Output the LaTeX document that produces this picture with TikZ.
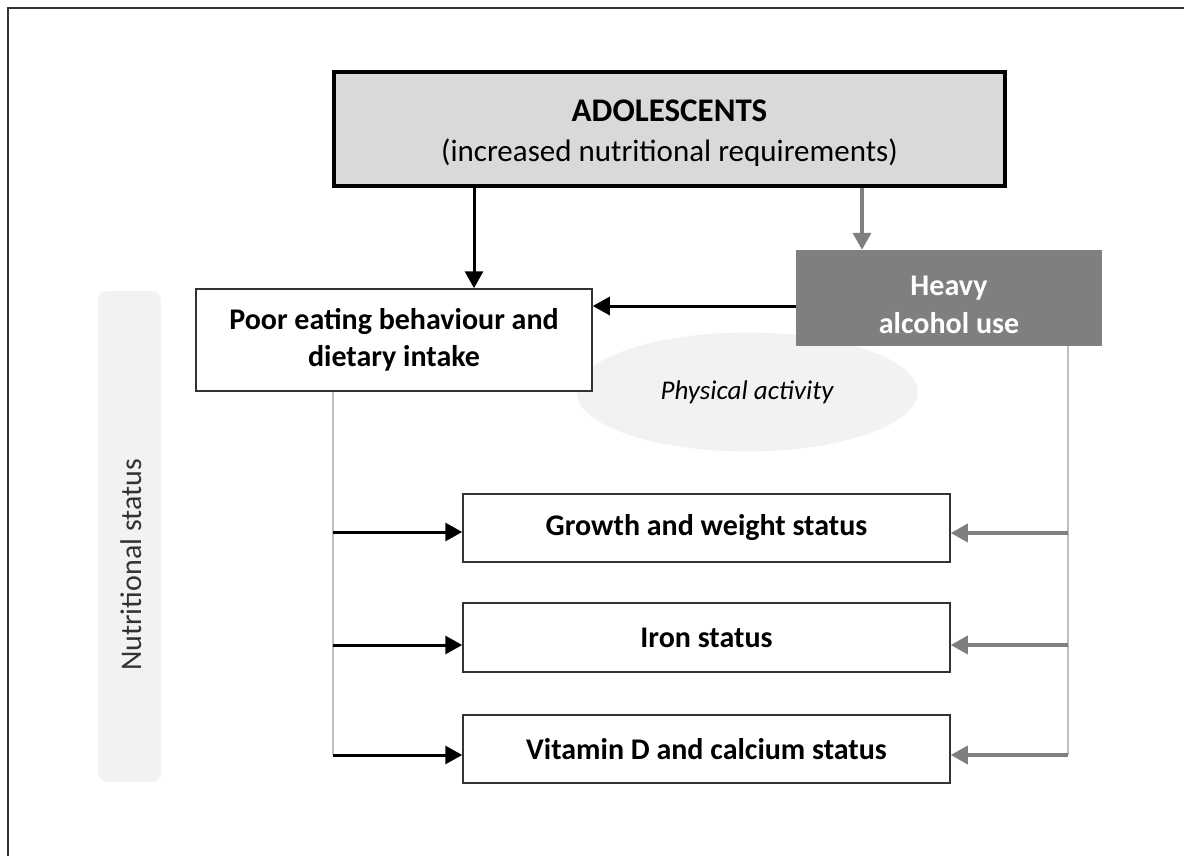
\documentclass[tikz,border=0pt]{standalone}
\usepackage{fontspec}
\setmainfont{Carlito}
\usepackage{xcolor}
\usepackage{tikz}
\usetikzlibrary{arrows.meta,positioning,shapes.geometric}
\definecolor{boxgray}{HTML}{D9D9D9}
\definecolor{alcgray}{HTML}{7F7F7F}
\definecolor{palegray}{HTML}{F2F2F2}
\definecolor{linegray}{HTML}{BFBFBF}
\definecolor{edgegray}{HTML}{333333}
\begin{document}
\begin{tikzpicture}[x=1pt,y=-1pt,
	box/.style={draw=edgegray,line width=1.5pt,fill=white,align=center,font=\fontsize{30}{37}\selectfont\bfseries,inner sep=0pt},
	blkarrow/.style={line width=3pt,-{Triangle[length=17pt,width=18pt]}},
	grayarrow/.style={alcgray,line width=3.5pt,-{Triangle[length=17pt,width=18pt]}},
	thinline/.style={linegray,line width=2pt}]
	\useasboundingbox (0,0) rectangle (1184,856);
	\draw[edgegray,line width=1.5pt] (8,856) -- (8,8) -- (1184,8);
	\node[draw=black,line width=4.5pt,fill=boxgray,minimum width=671pt,minimum height=114pt,align=center,inner sep=0pt,
		font=\fontsize{31}{40}\selectfont] (adol) at (669.5,129)
		{{\fontsize{33}{40}\selectfont\bfseries\rule{0pt}{29pt}ADOLESCENTS}\\(increased nutritional requirements)};
	\node[fill=palegray,rounded corners=9pt,minimum width=63pt,minimum height=491pt] (nutr) at (129.5,536.5) {};
	\node[rotate=90,text=edgegray,font=\fontsize{30}{34}\selectfont] (nutrtext) at (131,565) {Nutritional status};
	\node[ellipse,fill=palegray,minimum width=341pt,minimum height=119pt,inner sep=0pt] (phys) at (747,392)
		{\fontsize{27}{30}\selectfont\itshape Physical activity};
	\node[fill=alcgray,text=white,minimum width=306pt,minimum height=96pt,align=center,inner sep=0pt,font=\fontsize{30}{38}\selectfont\bfseries] (alc) at (949,298)
		{\rule{0pt}{34pt}Heavy\\alcohol use};
	\node[box,minimum width=396pt,minimum height=102pt] (eat) at (394,340) {Poor eating behaviour and\\dietary intake};
	\node[box,minimum width=487pt,minimum height=68pt] (growth) at (706.5,528) {Growth and weight status};
	\node[box,minimum width=487pt,minimum height=69pt] (iron) at (706.5,637.5) {Iron status};
	\node[box,minimum width=487pt,minimum height=68pt] (vitd) at (706.5,749) {Vitamin D and calcium status};
	\draw[blkarrow] (adol.south -| 474,0) -- (eat.north -| 474,0);
	\draw[grayarrow] (adol.south -| 862,0) -- (alc.north -| 862,0);
	\draw[blkarrow] (alc.west |- 0,306) -- (eat.east |- 0,306);
	\coordinate (lg) at (333,532);
	\coordinate (li) at (333,645);
	\coordinate (lv) at (333,755);
	\coordinate (rg) at (1068,533);
	\coordinate (ri) at (1068,645);
	\coordinate (rv) at (1068,755);
	\draw[thinline] (eat.south -| lg) -- (lv);
	\draw[thinline] (alc.south -| rg) -- (rv);
	\draw[blkarrow] (lg) -- (lg -| growth.west);
	\draw[blkarrow] (li) -- (li -| iron.west);
	\draw[blkarrow] (lv) -- (lv -| vitd.west);
	\draw[grayarrow] (rg) -- (rg -| growth.east);
	\draw[grayarrow] (ri) -- (ri -| iron.east);
	\draw[grayarrow] (rv) -- (rv -| vitd.east);
\end{tikzpicture}
\end{document}
